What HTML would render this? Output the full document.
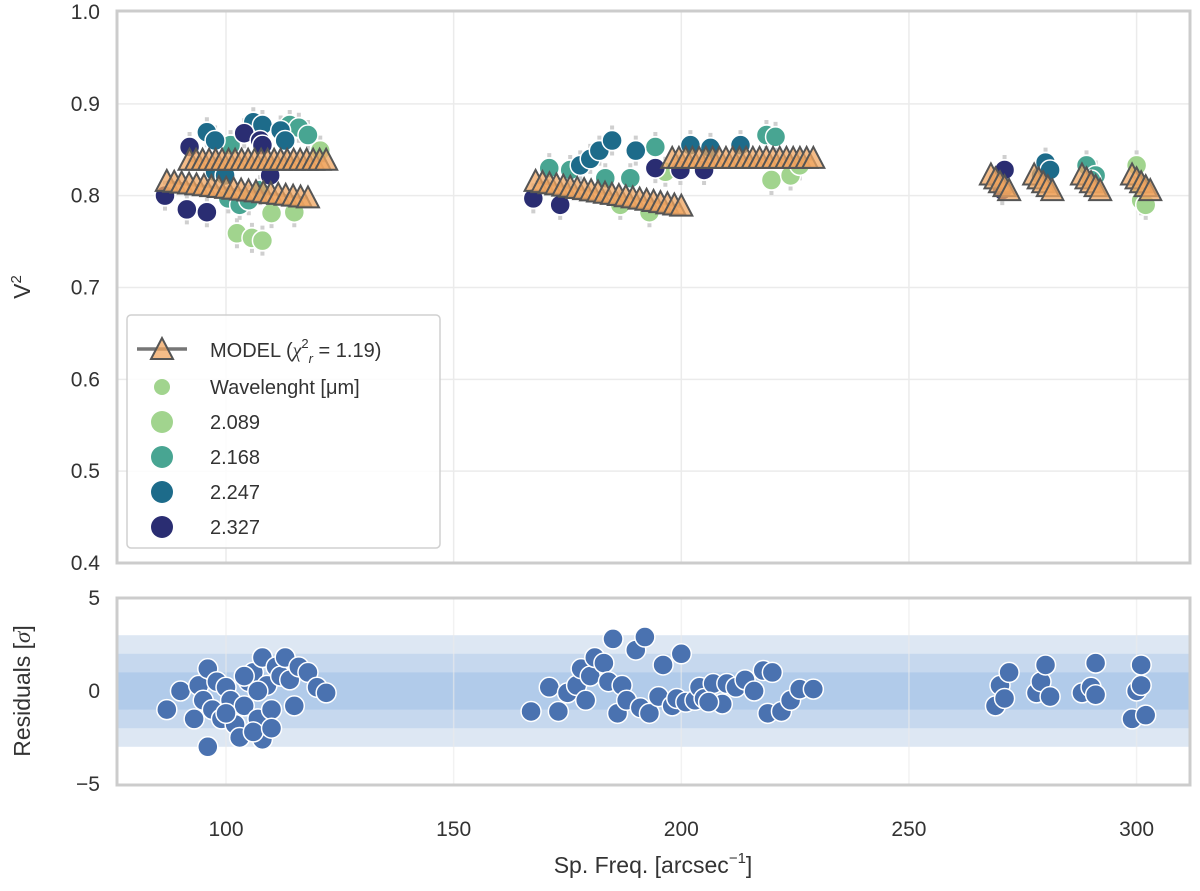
<!DOCTYPE html>
<html><head><meta charset="utf-8"><style>
body{margin:0;background:#fff;font-family:"Liberation Sans",sans-serif}
svg text{font-family:"Liberation Sans",sans-serif;fill:#333}
</style></head><body>
<svg id="c" width="1200" height="886" viewBox="0 0 1200 886"></svg>
<script>
// ---- data ----
const wlLabels=["2.089","2.168","2.247","2.327"];
const wlColors=["#a1d48e","#48a592","#1d6b8a","#2a2d72"];
const ptFreq=[102.4,105.7,108,110,115,120.7,186.6,193,196.5,219.8,224,226,300,301,302,301,
 101,114,116,118,100.5,103,105,107.5,171,175.6,183.3,188.8,194.3,218.7,220.7,289,291,290,
 95.8,97.6,106,108,112,113,97.6,99.8,177.8,180,182,184.8,190,202,206.4,213,279,280,281,
 86.6,91.4,95.8,92,104,107.5,108,109.7,167.5,173.4,194.3,199.8,205,269.5,271,270.5];
const ptV2=[0.759,0.754,0.751,0.781,0.782,0.849,0.79,0.782,0.826,0.817,0.822,0.833,0.833,0.795,0.79,0.81,
 0.855,0.877,0.874,0.866,0.797,0.79,0.795,0.806,0.83,0.828,0.819,0.819,0.853,0.866,0.864,0.833,0.822,0.817,
 0.869,0.86,0.88,0.877,0.871,0.86,0.826,0.822,0.833,0.84,0.849,0.86,0.849,0.855,0.852,0.855,0.822,0.836,0.828,
 0.80,0.785,0.782,0.853,0.868,0.86,0.855,0.822,0.797,0.79,0.83,0.828,0.828,0.817,0.828,0.806];
const ptWl=[0,0,0,0,0,0,0,0,0,0,0,0,0,0,0,0,
 1,1,1,1,1,1,1,1,1,1,1,1,1,1,1,1,1,1,
 2,2,2,2,2,2,2,2,2,2,2,2,2,2,2,2,2,2,2,
 3,3,3,3,3,3,3,3,3,3,3,3,3,3,3,3];
const modF0=[92,87,168,198,268,277.5,288,299];
const modF1=[122,118,200,229,272,281.5,292,303];
const modV0=[0.838,0.815,0.815,0.84,0.822,0.822,0.822,0.822];
const modV1=[0.838,0.797,0.788,0.84,0.805,0.805,0.805,0.805];
const modN=[22,20,22,22,5,5,5,5];
const resFreq=[87,90,93,94,95,96,97,96,98,99,100,101,102,103,104,105,106,107,108,108,109,110,111,112,113,114,115,116,118,120,122,100,104,106,110,107,
 167,171,173,175,177,178,179,180,181,183,184,185,186,187,188,190,191,192,193,195,196,198,199,200,201,203,204,205,207,209,210,212,214,216,218,219,220,222,224,226,229,206,
 269,270,271,272,278,279,280,281,288,290,291,291,299,300,301,302,301];
const resVal=[-1,0,-1.5,0.3,-0.5,1.2,-1,-3,0.5,-1.5,0.2,-0.5,-1.8,-2.5,-0.8,0.5,1,-1.5,-2.6,1.8,0.3,-1,1.3,0.8,1.8,0.6,-0.8,1.3,1,0.2,-0.1,-1.2,0.8,-2.2,-2,0,
 -1.1,0.2,-1.1,-0.1,0.3,1.2,-0.5,0.8,1.8,1.5,0.5,2.8,-1.2,0.3,-0.5,2.2,-0.9,2.9,-1.2,-0.3,1.4,-0.8,-0.4,2,-0.6,-0.5,0.2,-0.4,0.4,-0.7,0.4,0.2,0.6,0,1.1,-1.2,1,-1.1,-0.5,0.1,0.1,-0.6,
 -0.8,0.3,-0.4,1,-0.1,0.5,1.4,-0.3,-0.1,0.2,1.5,-0.2,-1.5,0,1.4,-1.3,0.3];
const xTicks=[100,150,200,250,300];
const yTicks=[0.4,0.5,0.6,0.7,0.8,0.9,1.0];
const rTicks=[-5,0,5];
// ---- scales ----
const X=v=>226+(v-100)*4.553;
const Y=v=>12+(1-v)*918.3;
const R=v=>691-v*18.6;
const svg=document.getElementById('c');
const NS='http://www.w3.org/2000/svg';
function mk(t,a,p){const e=document.createElementNS(NS,t);for(const k in a)e.setAttribute(k,a[k]);(p||svg).appendChild(e);return e;}
const topG=mk('g',{});


const botG=mk('g',{});


[[3,'#dde7f3'],[2,'#c6d8ee'],[1,'#b1cbea']].forEach(b=>{
 const r=mk('rect',{x:118,y:R(b[0]),width:1071,height:R(-b[0])-R(b[0]),fill:b[1]},botG);
 
 
});
xTicks.forEach(t=>{
 mk('line',{x1:X(t),x2:X(t),y1:12,y2:563,stroke:'#ebebeb','stroke-width':1.5},topG);
 mk('line',{x1:X(t),x2:X(t),y1:598,y2:785,stroke:'#ebebeb','stroke-width':1.5,opacity:0.6},botG);
 const tx=mk('text',{x:X(t),y:836,'text-anchor':'middle','font-size':21});tx.textContent=t;
 
 
});
yTicks.forEach(t=>{
 if(t<1&&t>0.4)mk('line',{x1:118,x2:1189,y1:Y(t),y2:Y(t),stroke:'#ebebeb','stroke-width':1.5},topG);
 const tx=mk('text',{x:100,y:Y(t)+7,'text-anchor':'end','font-size':21});tx.textContent=t.toFixed(1);
 
 
});
rTicks.forEach(t=>{
 const tx=mk('text',{x:100,y:R(t)+7,'text-anchor':'end','font-size':21});tx.textContent=t<0?'\u2212'+(-t):t;
 
 
});
ptFreq.forEach((f,i)=>{
 const x=X(f),y=Y(ptV2[i]);
 mk('line',{x1:x,x2:x,y1:y-15,y2:y+15,stroke:'#cfcfcf','stroke-width':4,'stroke-dasharray':'4 22'},topG);
});
ptFreq.forEach((f,i)=>{
 const c=mk('circle',{cx:X(f),cy:Y(ptV2[i]),r:10,fill:wlColors[ptWl[i]],stroke:'#fff','stroke-width':1.5},topG);
 
 
});
function tri(x,y,p){return mk('polygon',{points:`${x},${y-12} ${x-11},${y+9} ${x+11},${y+9}`,fill:'#f0a560','fill-opacity':0.75,stroke:'#555','stroke-width':2},p);}
modF0.forEach((f0,s)=>{
 const g=mk('g',{},topG);
 
 
 mk('line',{x1:X(f0),y1:Y(modV0[s]),x2:X(modF1[s]),y2:Y(modV1[s]),stroke:'#555','stroke-width':3,opacity:0.8},g);
 for(let k=0;k<modN[s];k++){const t=k/(modN[s]-1);
  tri(X(f0+(modF1[s]-f0)*t),Y(modV0[s]+(modV1[s]-modV0[s])*t),g);}
});
resFreq.forEach((f,i)=>{
 const c=mk('circle',{cx:X(f),cy:R(resVal[i]),r:10,fill:'#4a72b0',stroke:'#fff','stroke-width':1.5},botG);
 
 
});
mk('rect',{x:117,y:11,width:1073,height:552,fill:'none',stroke:'#cccccc','stroke-width':3},topG);
mk('rect',{x:117,y:598,width:1073,height:187,fill:'none',stroke:'#cccccc','stroke-width':3},botG);
const lg=mk('g',{});


mk('rect',{x:127,y:315,width:313,height:233,rx:4,fill:'#fff','fill-opacity':0.85,stroke:'#d0d0d0','stroke-width':1.5},lg);
mk('line',{x1:137,x2:187,y1:349,y2:349,stroke:'#555','stroke-width':3.5,opacity:0.8},lg);
tri(162,350,lg);
const lt=mk('text',{x:210,y:357,'font-size':20},lg);
lt.innerHTML='MODEL (<tspan font-style="italic" font-family="Liberation Serif">χ</tspan><tspan font-size="13" dy="-9">2</tspan><tspan font-size="13" dy="15" font-style="italic">r</tspan><tspan dy="-6"> = 1.19)</tspan>';
mk('circle',{cx:162,cy:387,r:8,fill:wlColors[0]},lg);
const wt=mk('text',{x:210,y:394,'font-size':20},lg);wt.textContent='Wavelenght [μm]';
wlLabels.forEach((l,i)=>{
 const y=422+i*35;
 const c=mk('circle',{cx:162,cy:y,r:11,fill:wlColors[i]},lg);
 
 
 const t=mk('text',{x:210,y:y+7,'font-size':20},lg);t.textContent=l;
 
 
});
const yl=mk('text',{x:0,y:0,'font-size':23,'text-anchor':'middle',transform:'translate(30,287) rotate(-90)'});
yl.innerHTML='V<tspan font-size="15" dy="-9">2</tspan>';


const rl=mk('text',{x:0,y:0,'font-size':23,'text-anchor':'middle',transform:'translate(30,691) rotate(-90)'});
rl.innerHTML='Residuals [<tspan font-style="italic" font-family="Liberation Serif">σ</tspan>]';


const xl=mk('text',{x:653,y:873,'font-size':23,'text-anchor':'middle'});
xl.innerHTML='Sp. Freq. [arcsec<tspan font-size="15" dy="-10">\u22121</tspan><tspan dy="10">]</tspan>';


</script>
</body></html>
